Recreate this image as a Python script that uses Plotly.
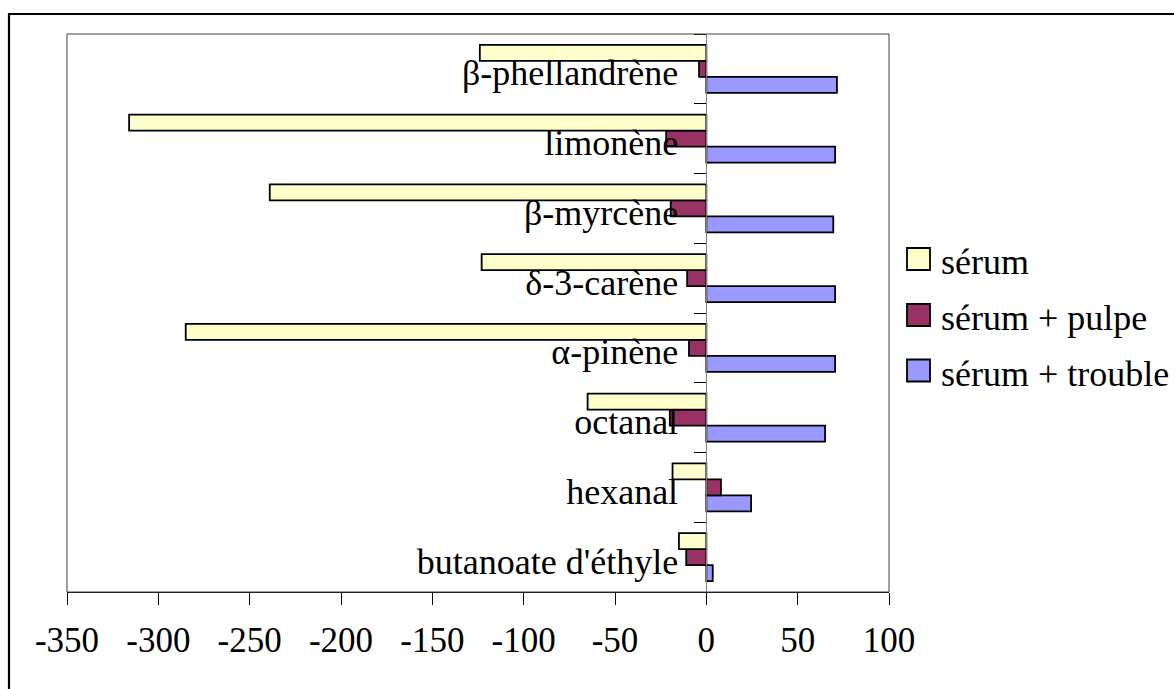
import plotly.graph_objects as go

# Composés (du bas vers le haut de l'axe)
composes = ["butanoate d'éthyle", "hexanal", "octanal", "α-pinène",
            "δ-3-carène", "β-myrcène", "limonène", "β-phellandrène"]

serum = [-15, -18.5, -65, -285, -123, -239, -316, -124]
serum_pulpe = [-11, 8, -20, -9.5, -10.5, -19.5, -22, -4]
serum_trouble = [3.5, 24.5, 65, 70.5, 70.5, 69.5, 70.5, 71.5]

series_names = ["sérum", "sérum + pulpe", "sérum + trouble"]
series_colors = ["#FFFFCC", "#993366", "#9999FF"]

x_ticks = [-350, -300, -250, -200, -150, -100, -50, 0, 50, 100]

W, H = 1174, 689
ML, MR, MT, MB = 67, 285, 34, 97
PW, PH = W - ML - MR, H - MT - MB

FONT = "Liberation Serif, Times New Roman, serif"


def px_x(px):
    return (px - ML) / PW


def px_y(py):
    return (H - MB - py) / PH


fig = go.Figure()

# bars are stacked bottom-up within a group, so the last series goes first
for vals, name, col in [(serum_trouble, series_names[2], series_colors[2]),
                        (serum_pulpe, series_names[1], series_colors[1]),
                        (serum, series_names[0], series_colors[0])]:
    fig.add_trace(go.Bar(
        y=composes, x=vals, orientation="h", name=name,
        marker=dict(color=col, line=dict(color="black", width=1.8)),
        showlegend=False, hoverinfo="x+y+name",
    ))

shapes = [
    # chart border
    dict(type="rect", xref="paper", yref="paper",
         x0=px_x(9), x1=px_x(W + 40), y0=px_y(H + 40), y1=px_y(14),
         line=dict(color="black", width=2.2), fillcolor="rgba(0,0,0,0)"),
    # plot area border
    dict(type="rect", xref="paper", yref="paper", x0=0, x1=1, y0=0, y1=1,
         line=dict(color="#404040", width=1), fillcolor="rgba(0,0,0,0)"),
]
annotations = []

# legend
leg_y = [259, 315, 370.5]
for name, col, cy in zip(series_names, series_colors, leg_y):
    shapes.append(dict(type="rect", xref="paper", yref="paper",
                       x0=px_x(907), x1=px_x(930),
                       y0=px_y(cy + 11), y1=px_y(cy - 11),
                       line=dict(color="black", width=1.8), fillcolor=col))
    annotations.append(dict(xref="paper", yref="paper", x=px_x(939), y=px_y(cy + 3),
                            text=name, showarrow=False, xanchor="left",
                            yanchor="middle",
                            font=dict(family=FONT, size=36, color="black")))

fig.update_layout(
    width=W, height=H,
    margin=dict(l=ML, r=MR, t=MT, b=MB, pad=0),
    paper_bgcolor="white", plot_bgcolor="white",
    barmode="group", bargap=0.312, bargroupgap=0,
    showlegend=False,
    shapes=shapes, annotations=annotations,
    font=dict(family=FONT, size=36, color="black"),
    xaxis=dict(range=[-350, 100], tickvals=x_ticks,
               ticktext=[str(v) for v in x_ticks],
               showgrid=False, zeroline=False,
               showline=True, linecolor="black", linewidth=1,
               ticks="outside", ticklen=12, tickcolor="black", tickwidth=1,
               tickfont=dict(family=FONT, size=35, color="black"),
               ticklabelstandoff=5, fixedrange=True),
    yaxis=dict(type="category", categoryorder="array", categoryarray=composes,
               anchor="free", position=350 / 450,
               showgrid=False, zeroline=False,
               showline=True, linecolor="#808080", linewidth=1,
               ticks="outside", ticklen=12, tickcolor="black", tickwidth=1,
               tickson="boundaries",
               tickfont=dict(family=FONT, size=36, color="black"),
               ticklabelstandoff=21, ticklabelshift=4, fixedrange=True),
)

fig.write_html("out.html")
